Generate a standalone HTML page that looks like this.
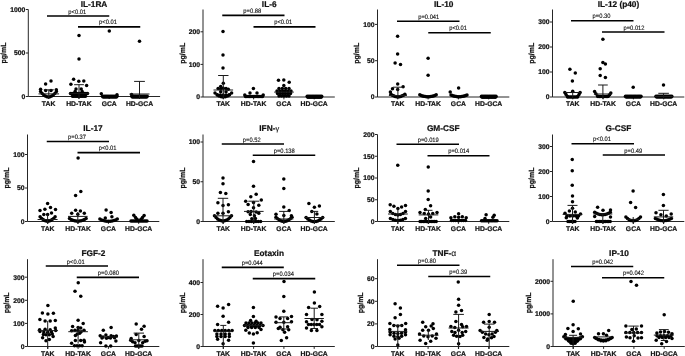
<!DOCTYPE html>
<html><head><meta charset="utf-8"><style>
html,body{margin:0;padding:0;background:#fff;}
svg{display:block;filter:grayscale(1);}
text{font-family:"Liberation Sans", sans-serif;fill:#111;stroke:#111;stroke-width:0.22px;text-rendering:geometricPrecision;}
.tk{font-size:6.8px;font-weight:bold;text-anchor:end;}
.cat{font-size:6.8px;font-weight:bold;text-anchor:middle;}
.yl{font-size:7.5px;font-weight:bold;text-anchor:middle;}
.ti{font-size:8.3px;font-weight:bold;text-anchor:middle;}
.gk{font-weight:normal;font-size:7.5px;stroke-width:0.1px;}
.pv{font-size:6.3px;text-anchor:middle;fill:#111;stroke:#111;stroke-width:0.12px;}
</style></head><body>
<svg width="685" height="356" viewBox="0 0 685 356">
<path d="M28.30 9.50V96.50H160.10" fill="none" stroke="#262626" stroke-width="1"/>
<path d="M25.80 96.50H28.30" stroke="#262626" stroke-width="1"/>
<text x="25.30" y="98.90" class="tk">0</text>
<path d="M25.80 53.00H28.30" stroke="#262626" stroke-width="1"/>
<text x="25.30" y="55.40" class="tk">500</text>
<path d="M25.80 9.50H28.30" stroke="#262626" stroke-width="1"/>
<text x="25.30" y="11.90" class="tk">1000</text>
<path d="M48.60 96.50V98.90" stroke="#262626" stroke-width="1"/>
<path d="M78.90 96.50V98.90" stroke="#262626" stroke-width="1"/>
<path d="M109.20 96.50V98.90" stroke="#262626" stroke-width="1"/>
<path d="M139.50 96.50V98.90" stroke="#262626" stroke-width="1"/>
<text x="48.60" y="106.00" class="cat">TAK</text>
<text x="78.90" y="106.00" class="cat">HD-TAK</text>
<text x="109.20" y="106.00" class="cat">GCA</text>
<text x="139.50" y="106.00" class="cat">HD-GCA</text>
<text transform="translate(6.18 53.00) rotate(-90) scale(0.93 1)" class="yl">pg/mL</text>
<text x="94.00" y="6.50" class="ti">IL-1RA</text>
<path d="M47.00 16.00H109.25" stroke="#000" stroke-width="1.65"/>
<text transform="translate(77.30 13.50) scale(0.92 1)" class="pv">p&lt;0.01</text>
<path d="M78.00 26.85H140.25" stroke="#000" stroke-width="1.65"/>
<text transform="translate(108.00 24.35) scale(0.92 1)" class="pv">p&lt;0.01</text>
<g fill="#000">
<circle cx="51.00" cy="81.10" r="1.75"/>
<circle cx="45.60" cy="83.90" r="1.75"/>
<circle cx="40.60" cy="89.20" r="1.75"/>
<circle cx="45.70" cy="90.40" r="1.75"/>
<circle cx="51.00" cy="90.40" r="1.75"/>
<circle cx="56.30" cy="89.80" r="1.75"/>
<circle cx="40.60" cy="91.40" r="1.75"/>
<circle cx="42.18" cy="93.38" r="1.75"/>
<circle cx="43.76" cy="94.92" r="1.75"/>
<circle cx="45.34" cy="96.02" r="1.75"/>
<circle cx="46.92" cy="96.68" r="1.75"/>
<circle cx="48.50" cy="96.90" r="1.75"/>
<circle cx="50.08" cy="96.68" r="1.75"/>
<circle cx="51.66" cy="96.02" r="1.75"/>
<circle cx="53.24" cy="94.92" r="1.75"/>
<circle cx="54.82" cy="93.38" r="1.75"/>
<circle cx="56.40" cy="91.40" r="1.75"/>
<circle cx="79.00" cy="35.50" r="1.75"/>
<circle cx="79.00" cy="58.90" r="1.75"/>
<circle cx="73.60" cy="79.20" r="1.75"/>
<circle cx="78.80" cy="81.20" r="1.75"/>
<circle cx="83.80" cy="81.00" r="1.75"/>
<circle cx="70.90" cy="84.30" r="1.75"/>
<circle cx="86.60" cy="85.40" r="1.75"/>
<circle cx="76.00" cy="88.90" r="1.75"/>
<circle cx="81.20" cy="88.90" r="1.75"/>
<circle cx="75.10" cy="91.50" r="1.75"/>
<circle cx="82.20" cy="91.50" r="1.75"/>
<circle cx="70.50" cy="93.50" r="1.75"/>
<circle cx="72.05" cy="93.50" r="1.75"/>
<circle cx="73.59" cy="93.50" r="1.75"/>
<circle cx="75.14" cy="93.50" r="1.75"/>
<circle cx="76.68" cy="93.50" r="1.75"/>
<circle cx="78.23" cy="93.50" r="1.75"/>
<circle cx="79.77" cy="93.50" r="1.75"/>
<circle cx="81.32" cy="93.50" r="1.75"/>
<circle cx="82.86" cy="93.50" r="1.75"/>
<circle cx="84.41" cy="93.50" r="1.75"/>
<circle cx="85.95" cy="93.50" r="1.75"/>
<circle cx="87.50" cy="93.50" r="1.75"/>
<circle cx="72.50" cy="96.30" r="1.75"/>
<circle cx="73.80" cy="96.30" r="1.75"/>
<circle cx="75.10" cy="96.30" r="1.75"/>
<circle cx="76.40" cy="96.30" r="1.75"/>
<circle cx="77.70" cy="96.30" r="1.75"/>
<circle cx="79.00" cy="96.30" r="1.75"/>
<circle cx="80.30" cy="96.30" r="1.75"/>
<circle cx="81.60" cy="96.30" r="1.75"/>
<circle cx="82.90" cy="96.30" r="1.75"/>
<circle cx="84.20" cy="96.30" r="1.75"/>
<circle cx="85.50" cy="96.30" r="1.75"/>
<circle cx="109.30" cy="31.00" r="1.75"/>
<circle cx="101.30" cy="93.80" r="1.75"/>
<circle cx="117.00" cy="94.80" r="1.75"/>
<circle cx="102.50" cy="96.15" r="1.75"/>
<circle cx="103.82" cy="96.15" r="1.75"/>
<circle cx="105.14" cy="96.15" r="1.75"/>
<circle cx="106.45" cy="96.15" r="1.75"/>
<circle cx="107.77" cy="96.15" r="1.75"/>
<circle cx="109.09" cy="96.15" r="1.75"/>
<circle cx="110.41" cy="96.15" r="1.75"/>
<circle cx="111.73" cy="96.15" r="1.75"/>
<circle cx="113.05" cy="96.15" r="1.75"/>
<circle cx="114.36" cy="96.15" r="1.75"/>
<circle cx="115.68" cy="96.15" r="1.75"/>
<circle cx="117.00" cy="96.15" r="1.75"/>
<circle cx="103.10" cy="97.05" r="1.75"/>
<circle cx="104.43" cy="97.05" r="1.75"/>
<circle cx="105.76" cy="97.05" r="1.75"/>
<circle cx="107.09" cy="97.05" r="1.75"/>
<circle cx="108.42" cy="97.05" r="1.75"/>
<circle cx="109.75" cy="97.05" r="1.75"/>
<circle cx="111.08" cy="97.05" r="1.75"/>
<circle cx="112.41" cy="97.05" r="1.75"/>
<circle cx="113.74" cy="97.05" r="1.75"/>
<circle cx="115.07" cy="97.05" r="1.75"/>
<circle cx="116.40" cy="97.05" r="1.75"/>
<circle cx="139.50" cy="41.30" r="1.75"/>
<circle cx="131.60" cy="94.60" r="1.75"/>
<circle cx="131.80" cy="96.15" r="1.75"/>
<circle cx="133.08" cy="96.15" r="1.75"/>
<circle cx="134.37" cy="96.15" r="1.75"/>
<circle cx="135.65" cy="96.15" r="1.75"/>
<circle cx="136.93" cy="96.15" r="1.75"/>
<circle cx="138.22" cy="96.15" r="1.75"/>
<circle cx="139.50" cy="96.15" r="1.75"/>
<circle cx="140.78" cy="96.15" r="1.75"/>
<circle cx="142.07" cy="96.15" r="1.75"/>
<circle cx="143.35" cy="96.15" r="1.75"/>
<circle cx="144.63" cy="96.15" r="1.75"/>
<circle cx="145.92" cy="96.15" r="1.75"/>
<circle cx="147.20" cy="96.15" r="1.75"/>
<circle cx="132.40" cy="97.05" r="1.75"/>
<circle cx="133.69" cy="97.05" r="1.75"/>
<circle cx="134.98" cy="97.05" r="1.75"/>
<circle cx="136.27" cy="97.05" r="1.75"/>
<circle cx="137.56" cy="97.05" r="1.75"/>
<circle cx="138.85" cy="97.05" r="1.75"/>
<circle cx="140.15" cy="97.05" r="1.75"/>
<circle cx="141.44" cy="97.05" r="1.75"/>
<circle cx="142.73" cy="97.05" r="1.75"/>
<circle cx="144.02" cy="97.05" r="1.75"/>
<circle cx="145.31" cy="97.05" r="1.75"/>
<circle cx="146.60" cy="97.05" r="1.75"/>
</g>
<path d="M38.50 93.90H59.10M48.80 89.80V98.90M43.80 89.80H53.80" stroke="#1a1a1a" stroke-width="1" fill="none"/>
<path d="M69.00 93.40H89.00M79.00 84.70V98.90M74.10 84.70H83.90" stroke="#1a1a1a" stroke-width="1" fill="none"/>
<path d="M129.50 94.00H149.50M139.50 81.40V98.90M134.10 81.40H144.90" stroke="#1a1a1a" stroke-width="1" fill="none"/>
<path d="M203.00 9.50V97.00H334.80" fill="none" stroke="#262626" stroke-width="1"/>
<path d="M200.50 97.00H203.00" stroke="#262626" stroke-width="1"/>
<text x="200.00" y="99.40" class="tk">0</text>
<path d="M200.50 64.40H203.00" stroke="#262626" stroke-width="1"/>
<text x="200.00" y="66.80" class="tk">100</text>
<path d="M200.50 31.80H203.00" stroke="#262626" stroke-width="1"/>
<text x="200.00" y="34.20" class="tk">200</text>
<path d="M223.30 97.00V99.40" stroke="#262626" stroke-width="1"/>
<path d="M253.60 97.00V99.40" stroke="#262626" stroke-width="1"/>
<path d="M283.90 97.00V99.40" stroke="#262626" stroke-width="1"/>
<path d="M314.20 97.00V99.40" stroke="#262626" stroke-width="1"/>
<text x="223.30" y="106.00" class="cat">TAK</text>
<text x="253.60" y="106.00" class="cat">HD-TAK</text>
<text x="283.90" y="106.00" class="cat">GCA</text>
<text x="314.20" y="106.00" class="cat">HD-GCA</text>
<text transform="translate(184.66 53.25) rotate(-90) scale(0.93 1)" class="yl">pg/mL</text>
<text x="269.25" y="6.50" class="ti">IL-6</text>
<path d="M222.25 15.30H284.50" stroke="#000" stroke-width="1.65"/>
<text transform="translate(252.25 12.80) scale(0.92 1)" class="pv">p=0.88</text>
<path d="M253.50 26.80H315.50" stroke="#000" stroke-width="1.65"/>
<text transform="translate(283.20 24.30) scale(0.92 1)" class="pv">p&lt;0.01</text>
<g fill="#000">
<circle cx="223.00" cy="31.60" r="1.75"/>
<circle cx="223.00" cy="54.90" r="1.75"/>
<circle cx="223.00" cy="68.10" r="1.75"/>
<circle cx="223.30" cy="83.20" r="1.75"/>
<circle cx="220.70" cy="86.40" r="1.75"/>
<circle cx="218.10" cy="88.60" r="1.75"/>
<circle cx="220.70" cy="89.10" r="1.75"/>
<circle cx="223.30" cy="88.20" r="1.75"/>
<circle cx="226.00" cy="88.60" r="1.75"/>
<circle cx="228.30" cy="89.30" r="1.75"/>
<circle cx="220.70" cy="91.70" r="1.75"/>
<circle cx="226.00" cy="91.70" r="1.75"/>
<circle cx="215.00" cy="93.00" r="1.75"/>
<circle cx="217.08" cy="94.75" r="1.75"/>
<circle cx="219.15" cy="96.00" r="1.75"/>
<circle cx="221.23" cy="96.75" r="1.75"/>
<circle cx="223.30" cy="97.00" r="1.75"/>
<circle cx="225.38" cy="96.75" r="1.75"/>
<circle cx="227.45" cy="96.00" r="1.75"/>
<circle cx="229.53" cy="94.75" r="1.75"/>
<circle cx="231.60" cy="93.00" r="1.75"/>
<circle cx="217.50" cy="95.00" r="1.75"/>
<circle cx="220.38" cy="95.00" r="1.75"/>
<circle cx="223.25" cy="95.00" r="1.75"/>
<circle cx="226.12" cy="95.00" r="1.75"/>
<circle cx="229.00" cy="95.00" r="1.75"/>
<circle cx="253.40" cy="88.60" r="1.75"/>
<circle cx="250.00" cy="93.00" r="1.75"/>
<circle cx="257.00" cy="93.00" r="1.75"/>
<circle cx="245.50" cy="96.40" r="1.75"/>
<circle cx="246.81" cy="96.40" r="1.75"/>
<circle cx="248.12" cy="96.40" r="1.75"/>
<circle cx="249.42" cy="96.40" r="1.75"/>
<circle cx="250.73" cy="96.40" r="1.75"/>
<circle cx="252.04" cy="96.40" r="1.75"/>
<circle cx="253.35" cy="96.40" r="1.75"/>
<circle cx="254.65" cy="96.40" r="1.75"/>
<circle cx="255.96" cy="96.40" r="1.75"/>
<circle cx="257.27" cy="96.40" r="1.75"/>
<circle cx="258.58" cy="96.40" r="1.75"/>
<circle cx="259.88" cy="96.40" r="1.75"/>
<circle cx="261.19" cy="96.40" r="1.75"/>
<circle cx="262.50" cy="96.40" r="1.75"/>
<circle cx="244.80" cy="95.00" r="1.75"/>
<circle cx="263.20" cy="95.00" r="1.75"/>
<circle cx="278.50" cy="80.30" r="1.75"/>
<circle cx="283.80" cy="79.90" r="1.75"/>
<circle cx="289.20" cy="82.30" r="1.75"/>
<circle cx="283.80" cy="85.60" r="1.75"/>
<circle cx="279.00" cy="88.50" r="1.75"/>
<circle cx="282.33" cy="88.50" r="1.75"/>
<circle cx="285.67" cy="88.50" r="1.75"/>
<circle cx="289.00" cy="88.50" r="1.75"/>
<circle cx="277.00" cy="91.00" r="1.75"/>
<circle cx="279.80" cy="91.00" r="1.75"/>
<circle cx="282.60" cy="91.00" r="1.75"/>
<circle cx="285.40" cy="91.00" r="1.75"/>
<circle cx="288.20" cy="91.00" r="1.75"/>
<circle cx="291.00" cy="91.00" r="1.75"/>
<circle cx="277.50" cy="93.50" r="1.75"/>
<circle cx="280.10" cy="93.50" r="1.75"/>
<circle cx="282.70" cy="93.50" r="1.75"/>
<circle cx="285.30" cy="93.50" r="1.75"/>
<circle cx="287.90" cy="93.50" r="1.75"/>
<circle cx="290.50" cy="93.50" r="1.75"/>
<circle cx="279.00" cy="96.00" r="1.75"/>
<circle cx="281.50" cy="96.00" r="1.75"/>
<circle cx="284.00" cy="96.00" r="1.75"/>
<circle cx="286.50" cy="96.00" r="1.75"/>
<circle cx="289.00" cy="96.00" r="1.75"/>
<circle cx="307.20" cy="96.25" r="1.75"/>
<circle cx="308.52" cy="96.25" r="1.75"/>
<circle cx="309.84" cy="96.25" r="1.75"/>
<circle cx="311.15" cy="96.25" r="1.75"/>
<circle cx="312.47" cy="96.25" r="1.75"/>
<circle cx="313.79" cy="96.25" r="1.75"/>
<circle cx="315.11" cy="96.25" r="1.75"/>
<circle cx="316.43" cy="96.25" r="1.75"/>
<circle cx="317.75" cy="96.25" r="1.75"/>
<circle cx="319.06" cy="96.25" r="1.75"/>
<circle cx="320.38" cy="96.25" r="1.75"/>
<circle cx="321.70" cy="96.25" r="1.75"/>
<circle cx="307.80" cy="97.15" r="1.75"/>
<circle cx="309.13" cy="97.15" r="1.75"/>
<circle cx="310.46" cy="97.15" r="1.75"/>
<circle cx="311.79" cy="97.15" r="1.75"/>
<circle cx="313.12" cy="97.15" r="1.75"/>
<circle cx="314.45" cy="97.15" r="1.75"/>
<circle cx="315.78" cy="97.15" r="1.75"/>
<circle cx="317.11" cy="97.15" r="1.75"/>
<circle cx="318.44" cy="97.15" r="1.75"/>
<circle cx="319.77" cy="97.15" r="1.75"/>
<circle cx="321.10" cy="97.15" r="1.75"/>
</g>
<path d="M213.50 90.00H233.10M223.30 75.50V99.00M218.10 75.50H228.50" stroke="#1a1a1a" stroke-width="1" fill="none"/>
<path d="M274.20 92.10H293.80" stroke="#1a1a1a" stroke-width="1" fill="none"/>
<path d="M377.50 9.50V97.00H509.30" fill="none" stroke="#262626" stroke-width="1"/>
<path d="M375.00 97.00H377.50" stroke="#262626" stroke-width="1"/>
<text x="374.50" y="99.40" class="tk">0</text>
<path d="M375.00 60.70H377.50" stroke="#262626" stroke-width="1"/>
<text x="374.50" y="63.10" class="tk">50</text>
<path d="M375.00 24.40H377.50" stroke="#262626" stroke-width="1"/>
<text x="374.50" y="26.80" class="tk">100</text>
<path d="M397.80 97.00V99.40" stroke="#262626" stroke-width="1"/>
<path d="M428.10 97.00V99.40" stroke="#262626" stroke-width="1"/>
<path d="M458.40 97.00V99.40" stroke="#262626" stroke-width="1"/>
<path d="M488.70 97.00V99.40" stroke="#262626" stroke-width="1"/>
<text x="397.80" y="106.00" class="cat">TAK</text>
<text x="428.10" y="106.00" class="cat">HD-TAK</text>
<text x="458.40" y="106.00" class="cat">GCA</text>
<text x="488.70" y="106.00" class="cat">HD-GCA</text>
<text transform="translate(359.16 53.25) rotate(-90) scale(0.93 1)" class="yl">pg/mL</text>
<text x="443.75" y="6.50" class="ti">IL-10</text>
<path d="M397.00 21.25H459.50" stroke="#000" stroke-width="1.65"/>
<text transform="translate(428.75 18.75) scale(0.92 1)" class="pv">p=0.041</text>
<path d="M428.25 32.75H490.75" stroke="#000" stroke-width="1.65"/>
<text transform="translate(458.10 30.25) scale(0.92 1)" class="pv">p&lt;0.01</text>
<g fill="#000">
<circle cx="397.60" cy="36.20" r="1.75"/>
<circle cx="397.60" cy="53.90" r="1.75"/>
<circle cx="395.10" cy="63.00" r="1.75"/>
<circle cx="400.50" cy="64.60" r="1.75"/>
<circle cx="397.70" cy="84.10" r="1.75"/>
<circle cx="403.10" cy="86.80" r="1.75"/>
<circle cx="392.50" cy="88.70" r="1.75"/>
<circle cx="397.70" cy="89.40" r="1.75"/>
<circle cx="390.40" cy="92.00" r="1.75"/>
<circle cx="390.90" cy="94.20" r="1.75"/>
<circle cx="392.30" cy="95.14" r="1.75"/>
<circle cx="393.70" cy="95.86" r="1.75"/>
<circle cx="395.10" cy="96.38" r="1.75"/>
<circle cx="396.50" cy="96.70" r="1.75"/>
<circle cx="397.90" cy="96.80" r="1.75"/>
<circle cx="399.30" cy="96.70" r="1.75"/>
<circle cx="400.70" cy="96.38" r="1.75"/>
<circle cx="402.10" cy="95.86" r="1.75"/>
<circle cx="403.50" cy="95.14" r="1.75"/>
<circle cx="404.90" cy="94.20" r="1.75"/>
<circle cx="428.10" cy="58.20" r="1.75"/>
<circle cx="428.10" cy="75.20" r="1.75"/>
<circle cx="419.80" cy="94.80" r="1.75"/>
<circle cx="421.17" cy="95.41" r="1.75"/>
<circle cx="422.53" cy="95.91" r="1.75"/>
<circle cx="423.90" cy="96.30" r="1.75"/>
<circle cx="425.27" cy="96.58" r="1.75"/>
<circle cx="426.63" cy="96.74" r="1.75"/>
<circle cx="428.00" cy="96.80" r="1.75"/>
<circle cx="429.37" cy="96.74" r="1.75"/>
<circle cx="430.73" cy="96.58" r="1.75"/>
<circle cx="432.10" cy="96.30" r="1.75"/>
<circle cx="433.47" cy="95.91" r="1.75"/>
<circle cx="434.83" cy="95.41" r="1.75"/>
<circle cx="436.20" cy="94.80" r="1.75"/>
<circle cx="458.60" cy="87.90" r="1.75"/>
<circle cx="450.20" cy="92.10" r="1.75"/>
<circle cx="451.00" cy="95.00" r="1.75"/>
<circle cx="452.33" cy="95.55" r="1.75"/>
<circle cx="453.67" cy="96.00" r="1.75"/>
<circle cx="455.00" cy="96.35" r="1.75"/>
<circle cx="456.33" cy="96.60" r="1.75"/>
<circle cx="457.67" cy="96.75" r="1.75"/>
<circle cx="459.00" cy="96.80" r="1.75"/>
<circle cx="460.33" cy="96.75" r="1.75"/>
<circle cx="461.67" cy="96.60" r="1.75"/>
<circle cx="463.00" cy="96.35" r="1.75"/>
<circle cx="464.33" cy="96.00" r="1.75"/>
<circle cx="465.67" cy="95.55" r="1.75"/>
<circle cx="467.00" cy="95.00" r="1.75"/>
<circle cx="481.50" cy="96.25" r="1.75"/>
<circle cx="482.82" cy="96.25" r="1.75"/>
<circle cx="484.14" cy="96.25" r="1.75"/>
<circle cx="485.45" cy="96.25" r="1.75"/>
<circle cx="486.77" cy="96.25" r="1.75"/>
<circle cx="488.09" cy="96.25" r="1.75"/>
<circle cx="489.41" cy="96.25" r="1.75"/>
<circle cx="490.73" cy="96.25" r="1.75"/>
<circle cx="492.05" cy="96.25" r="1.75"/>
<circle cx="493.36" cy="96.25" r="1.75"/>
<circle cx="494.68" cy="96.25" r="1.75"/>
<circle cx="496.00" cy="96.25" r="1.75"/>
<circle cx="482.10" cy="97.15" r="1.75"/>
<circle cx="483.43" cy="97.15" r="1.75"/>
<circle cx="484.76" cy="97.15" r="1.75"/>
<circle cx="486.09" cy="97.15" r="1.75"/>
<circle cx="487.42" cy="97.15" r="1.75"/>
<circle cx="488.75" cy="97.15" r="1.75"/>
<circle cx="490.08" cy="97.15" r="1.75"/>
<circle cx="491.41" cy="97.15" r="1.75"/>
<circle cx="492.74" cy="97.15" r="1.75"/>
<circle cx="494.07" cy="97.15" r="1.75"/>
<circle cx="495.40" cy="97.15" r="1.75"/>
</g>
<path d="M388.90 95.50H406.90M397.90 87.20V99.00M392.90 87.20H402.90" stroke="#1a1a1a" stroke-width="1" fill="none"/>
<path d="M552.50 9.50V97.00H684.30" fill="none" stroke="#262626" stroke-width="1"/>
<path d="M550.00 97.00H552.50" stroke="#262626" stroke-width="1"/>
<text x="549.50" y="99.40" class="tk">0</text>
<path d="M550.00 72.00H552.50" stroke="#262626" stroke-width="1"/>
<text x="549.50" y="74.40" class="tk">100</text>
<path d="M550.00 47.00H552.50" stroke="#262626" stroke-width="1"/>
<text x="549.50" y="49.40" class="tk">200</text>
<path d="M550.00 22.00H552.50" stroke="#262626" stroke-width="1"/>
<text x="549.50" y="24.40" class="tk">300</text>
<path d="M572.80 97.00V99.40" stroke="#262626" stroke-width="1"/>
<path d="M603.10 97.00V99.40" stroke="#262626" stroke-width="1"/>
<path d="M633.40 97.00V99.40" stroke="#262626" stroke-width="1"/>
<path d="M663.70 97.00V99.40" stroke="#262626" stroke-width="1"/>
<text x="572.80" y="106.00" class="cat">TAK</text>
<text x="603.10" y="106.00" class="cat">HD-TAK</text>
<text x="633.40" y="106.00" class="cat">GCA</text>
<text x="663.70" y="106.00" class="cat">HD-GCA</text>
<text transform="translate(534.16 53.25) rotate(-90) scale(0.93 1)" class="yl">pg/mL</text>
<text x="618.50" y="6.50" class="ti">IL-12 (p40)</text>
<path d="M571.00 20.75H633.50" stroke="#000" stroke-width="1.65"/>
<text transform="translate(601.50 18.25) scale(0.92 1)" class="pv">p=0.30</text>
<path d="M602.00 32.00H664.50" stroke="#000" stroke-width="1.65"/>
<text transform="translate(634.00 29.50) scale(0.92 1)" class="pv">p=0.012</text>
<g fill="#000">
<circle cx="569.90" cy="69.20" r="1.75"/>
<circle cx="575.30" cy="73.10" r="1.75"/>
<circle cx="572.40" cy="80.90" r="1.75"/>
<circle cx="572.70" cy="91.20" r="1.75"/>
<circle cx="564.80" cy="92.50" r="1.75"/>
<circle cx="566.00" cy="94.60" r="1.75"/>
<circle cx="567.40" cy="96.40" r="1.75"/>
<circle cx="580.10" cy="92.50" r="1.75"/>
<circle cx="579.00" cy="94.60" r="1.75"/>
<circle cx="577.60" cy="96.40" r="1.75"/>
<circle cx="567.60" cy="96.90" r="1.75"/>
<circle cx="569.01" cy="96.90" r="1.75"/>
<circle cx="570.43" cy="96.90" r="1.75"/>
<circle cx="571.84" cy="96.90" r="1.75"/>
<circle cx="573.26" cy="96.90" r="1.75"/>
<circle cx="574.67" cy="96.90" r="1.75"/>
<circle cx="576.09" cy="96.90" r="1.75"/>
<circle cx="577.50" cy="96.90" r="1.75"/>
<circle cx="602.90" cy="39.30" r="1.75"/>
<circle cx="602.90" cy="62.60" r="1.75"/>
<circle cx="605.40" cy="64.00" r="1.75"/>
<circle cx="600.20" cy="68.80" r="1.75"/>
<circle cx="600.20" cy="75.60" r="1.75"/>
<circle cx="605.40" cy="77.60" r="1.75"/>
<circle cx="594.60" cy="91.40" r="1.75"/>
<circle cx="595.90" cy="93.70" r="1.75"/>
<circle cx="597.50" cy="95.90" r="1.75"/>
<circle cx="610.80" cy="93.00" r="1.75"/>
<circle cx="609.60" cy="94.80" r="1.75"/>
<circle cx="608.20" cy="96.20" r="1.75"/>
<circle cx="598.00" cy="96.60" r="1.75"/>
<circle cx="599.39" cy="96.60" r="1.75"/>
<circle cx="600.77" cy="96.60" r="1.75"/>
<circle cx="602.16" cy="96.60" r="1.75"/>
<circle cx="603.54" cy="96.60" r="1.75"/>
<circle cx="604.93" cy="96.60" r="1.75"/>
<circle cx="606.31" cy="96.60" r="1.75"/>
<circle cx="607.70" cy="96.60" r="1.75"/>
<circle cx="633.20" cy="87.30" r="1.75"/>
<circle cx="625.50" cy="96.15" r="1.75"/>
<circle cx="626.79" cy="96.15" r="1.75"/>
<circle cx="628.08" cy="96.15" r="1.75"/>
<circle cx="629.38" cy="96.15" r="1.75"/>
<circle cx="630.67" cy="96.15" r="1.75"/>
<circle cx="631.96" cy="96.15" r="1.75"/>
<circle cx="633.25" cy="96.15" r="1.75"/>
<circle cx="634.54" cy="96.15" r="1.75"/>
<circle cx="635.83" cy="96.15" r="1.75"/>
<circle cx="637.12" cy="96.15" r="1.75"/>
<circle cx="638.42" cy="96.15" r="1.75"/>
<circle cx="639.71" cy="96.15" r="1.75"/>
<circle cx="641.00" cy="96.15" r="1.75"/>
<circle cx="626.10" cy="97.05" r="1.75"/>
<circle cx="627.40" cy="97.05" r="1.75"/>
<circle cx="628.70" cy="97.05" r="1.75"/>
<circle cx="630.00" cy="97.05" r="1.75"/>
<circle cx="631.30" cy="97.05" r="1.75"/>
<circle cx="632.60" cy="97.05" r="1.75"/>
<circle cx="633.90" cy="97.05" r="1.75"/>
<circle cx="635.20" cy="97.05" r="1.75"/>
<circle cx="636.50" cy="97.05" r="1.75"/>
<circle cx="637.80" cy="97.05" r="1.75"/>
<circle cx="639.10" cy="97.05" r="1.75"/>
<circle cx="640.40" cy="97.05" r="1.75"/>
<circle cx="663.50" cy="85.00" r="1.75"/>
<circle cx="656.00" cy="96.15" r="1.75"/>
<circle cx="657.32" cy="96.15" r="1.75"/>
<circle cx="658.63" cy="96.15" r="1.75"/>
<circle cx="659.95" cy="96.15" r="1.75"/>
<circle cx="661.27" cy="96.15" r="1.75"/>
<circle cx="662.58" cy="96.15" r="1.75"/>
<circle cx="663.90" cy="96.15" r="1.75"/>
<circle cx="665.22" cy="96.15" r="1.75"/>
<circle cx="666.53" cy="96.15" r="1.75"/>
<circle cx="667.85" cy="96.15" r="1.75"/>
<circle cx="669.17" cy="96.15" r="1.75"/>
<circle cx="670.48" cy="96.15" r="1.75"/>
<circle cx="671.80" cy="96.15" r="1.75"/>
<circle cx="656.60" cy="97.05" r="1.75"/>
<circle cx="657.93" cy="97.05" r="1.75"/>
<circle cx="659.25" cy="97.05" r="1.75"/>
<circle cx="660.58" cy="97.05" r="1.75"/>
<circle cx="661.91" cy="97.05" r="1.75"/>
<circle cx="663.24" cy="97.05" r="1.75"/>
<circle cx="664.56" cy="97.05" r="1.75"/>
<circle cx="665.89" cy="97.05" r="1.75"/>
<circle cx="667.22" cy="97.05" r="1.75"/>
<circle cx="668.55" cy="97.05" r="1.75"/>
<circle cx="669.87" cy="97.05" r="1.75"/>
<circle cx="671.20" cy="97.05" r="1.75"/>
</g>
<path d="M565.10 92.50H580.30M572.70 91.20V99.00" stroke="#1a1a1a" stroke-width="1" fill="none"/>
<path d="M593.90 94.00H611.90M602.90 85.00V99.00M598.05 85.00H607.75" stroke="#1a1a1a" stroke-width="1" fill="none"/>
<path d="M654.60 96.50H672.60M663.60 93.30V99.00M658.30 93.30H668.90" stroke="#1a1a1a" stroke-width="1" fill="none"/>
<path d="M27.50 134.50V221.50H159.30" fill="none" stroke="#262626" stroke-width="1"/>
<path d="M25.00 221.50H27.50" stroke="#262626" stroke-width="1"/>
<text x="24.50" y="223.90" class="tk">0</text>
<path d="M25.00 188.00H27.50" stroke="#262626" stroke-width="1"/>
<text x="24.50" y="190.40" class="tk">50</text>
<path d="M25.00 154.50H27.50" stroke="#262626" stroke-width="1"/>
<text x="24.50" y="156.90" class="tk">100</text>
<path d="M47.80 221.50V223.90" stroke="#262626" stroke-width="1"/>
<path d="M78.10 221.50V223.90" stroke="#262626" stroke-width="1"/>
<path d="M108.40 221.50V223.90" stroke="#262626" stroke-width="1"/>
<path d="M138.70 221.50V223.90" stroke="#262626" stroke-width="1"/>
<text x="47.80" y="231.00" class="cat">TAK</text>
<text x="78.10" y="231.00" class="cat">HD-TAK</text>
<text x="108.40" y="231.00" class="cat">GCA</text>
<text x="138.70" y="231.00" class="cat">HD-GCA</text>
<text transform="translate(9.16 178.00) rotate(-90) scale(0.93 1)" class="yl">pg/mL</text>
<text x="93.00" y="131.00" class="ti">IL-17</text>
<path d="M46.75 141.50H109.00" stroke="#000" stroke-width="1.65"/>
<text transform="translate(77.00 139.00) scale(0.92 1)" class="pv">p=0.37</text>
<path d="M77.50 152.55H140.00" stroke="#000" stroke-width="1.65"/>
<text transform="translate(107.60 150.05) scale(0.92 1)" class="pv">p&lt;0.01</text>
<g fill="#000">
<circle cx="47.60" cy="203.40" r="1.75"/>
<circle cx="50.50" cy="207.50" r="1.75"/>
<circle cx="44.90" cy="209.20" r="1.75"/>
<circle cx="40.00" cy="210.40" r="1.75"/>
<circle cx="55.50" cy="209.60" r="1.75"/>
<circle cx="51.50" cy="212.90" r="1.75"/>
<circle cx="47.60" cy="214.50" r="1.75"/>
<circle cx="43.80" cy="214.50" r="1.75"/>
<circle cx="40.10" cy="216.80" r="1.75"/>
<circle cx="41.60" cy="218.38" r="1.75"/>
<circle cx="43.10" cy="219.62" r="1.75"/>
<circle cx="44.60" cy="220.50" r="1.75"/>
<circle cx="46.10" cy="221.02" r="1.75"/>
<circle cx="47.60" cy="221.20" r="1.75"/>
<circle cx="49.10" cy="221.02" r="1.75"/>
<circle cx="50.60" cy="220.50" r="1.75"/>
<circle cx="52.10" cy="219.62" r="1.75"/>
<circle cx="53.60" cy="218.38" r="1.75"/>
<circle cx="55.10" cy="216.80" r="1.75"/>
<circle cx="78.10" cy="157.90" r="1.75"/>
<circle cx="80.80" cy="191.50" r="1.75"/>
<circle cx="75.60" cy="195.40" r="1.75"/>
<circle cx="75.60" cy="210.30" r="1.75"/>
<circle cx="80.40" cy="211.10" r="1.75"/>
<circle cx="71.70" cy="213.30" r="1.75"/>
<circle cx="84.30" cy="213.30" r="1.75"/>
<circle cx="77.80" cy="214.20" r="1.75"/>
<circle cx="69.50" cy="218.60" r="1.75"/>
<circle cx="71.16" cy="219.54" r="1.75"/>
<circle cx="72.82" cy="220.26" r="1.75"/>
<circle cx="74.48" cy="220.78" r="1.75"/>
<circle cx="76.14" cy="221.10" r="1.75"/>
<circle cx="77.80" cy="221.20" r="1.75"/>
<circle cx="79.46" cy="221.10" r="1.75"/>
<circle cx="81.12" cy="220.78" r="1.75"/>
<circle cx="82.78" cy="220.26" r="1.75"/>
<circle cx="84.44" cy="219.54" r="1.75"/>
<circle cx="86.10" cy="218.60" r="1.75"/>
<circle cx="106.10" cy="210.00" r="1.75"/>
<circle cx="111.10" cy="212.50" r="1.75"/>
<circle cx="105.30" cy="218.10" r="1.75"/>
<circle cx="111.90" cy="216.70" r="1.75"/>
<circle cx="99.90" cy="219.10" r="1.75"/>
<circle cx="101.64" cy="219.89" r="1.75"/>
<circle cx="103.38" cy="220.51" r="1.75"/>
<circle cx="105.12" cy="220.95" r="1.75"/>
<circle cx="106.86" cy="221.21" r="1.75"/>
<circle cx="108.60" cy="221.30" r="1.75"/>
<circle cx="110.34" cy="221.21" r="1.75"/>
<circle cx="112.08" cy="220.95" r="1.75"/>
<circle cx="113.82" cy="220.51" r="1.75"/>
<circle cx="115.56" cy="219.89" r="1.75"/>
<circle cx="117.30" cy="219.10" r="1.75"/>
<circle cx="133.80" cy="215.20" r="1.75"/>
<circle cx="144.10" cy="215.60" r="1.75"/>
<circle cx="135.50" cy="217.50" r="1.75"/>
<circle cx="142.50" cy="217.50" r="1.75"/>
<circle cx="137.00" cy="219.20" r="1.75"/>
<circle cx="141.00" cy="219.20" r="1.75"/>
<circle cx="131.00" cy="221.00" r="1.75"/>
<circle cx="132.45" cy="221.00" r="1.75"/>
<circle cx="133.91" cy="221.00" r="1.75"/>
<circle cx="135.36" cy="221.00" r="1.75"/>
<circle cx="136.82" cy="221.00" r="1.75"/>
<circle cx="138.27" cy="221.00" r="1.75"/>
<circle cx="139.73" cy="221.00" r="1.75"/>
<circle cx="141.18" cy="221.00" r="1.75"/>
<circle cx="142.64" cy="221.00" r="1.75"/>
<circle cx="144.09" cy="221.00" r="1.75"/>
<circle cx="145.55" cy="221.00" r="1.75"/>
<circle cx="147.00" cy="221.00" r="1.75"/>
</g>
<path d="M37.60 219.50H57.60M47.60 214.50V223.90" stroke="#1a1a1a" stroke-width="1" fill="none"/>
<path d="M68.00 216.40H87.60M77.80 212.00V223.90" stroke="#1a1a1a" stroke-width="1" fill="none"/>
<path d="M203.00 134.50V221.50H334.80" fill="none" stroke="#262626" stroke-width="1"/>
<path d="M200.50 221.50H203.00" stroke="#262626" stroke-width="1"/>
<text x="200.00" y="223.90" class="tk">0</text>
<path d="M200.50 181.75H203.00" stroke="#262626" stroke-width="1"/>
<text x="200.00" y="184.15" class="tk">50</text>
<path d="M200.50 142.00H203.00" stroke="#262626" stroke-width="1"/>
<text x="200.00" y="144.40" class="tk">100</text>
<path d="M223.30 221.50V223.90" stroke="#262626" stroke-width="1"/>
<path d="M253.60 221.50V223.90" stroke="#262626" stroke-width="1"/>
<path d="M283.90 221.50V223.90" stroke="#262626" stroke-width="1"/>
<path d="M314.20 221.50V223.90" stroke="#262626" stroke-width="1"/>
<text x="223.30" y="231.00" class="cat">TAK</text>
<text x="253.60" y="231.00" class="cat">HD-TAK</text>
<text x="283.90" y="231.00" class="cat">GCA</text>
<text x="314.20" y="231.00" class="cat">HD-GCA</text>
<text transform="translate(184.66 178.00) rotate(-90) scale(0.93 1)" class="yl">pg/mL</text>
<text x="269.25" y="131.00" class="ti">IFN-<tspan class="gk">γ</tspan></text>
<path d="M221.75 144.00H284.00" stroke="#000" stroke-width="1.65"/>
<text transform="translate(251.75 141.50) scale(0.92 1)" class="pv">p=0.52</text>
<path d="M252.75 155.25H315.25" stroke="#000" stroke-width="1.65"/>
<text transform="translate(284.25 152.75) scale(0.92 1)" class="pv">p=0.138</text>
<g fill="#000">
<circle cx="223.00" cy="178.10" r="1.75"/>
<circle cx="223.00" cy="183.70" r="1.75"/>
<circle cx="220.40" cy="192.40" r="1.75"/>
<circle cx="225.80" cy="193.60" r="1.75"/>
<circle cx="217.90" cy="202.70" r="1.75"/>
<circle cx="223.00" cy="205.60" r="1.75"/>
<circle cx="228.40" cy="204.80" r="1.75"/>
<circle cx="217.90" cy="213.20" r="1.75"/>
<circle cx="223.00" cy="213.20" r="1.75"/>
<circle cx="228.40" cy="211.70" r="1.75"/>
<circle cx="214.50" cy="215.80" r="1.75"/>
<circle cx="216.05" cy="217.52" r="1.75"/>
<circle cx="217.59" cy="218.89" r="1.75"/>
<circle cx="219.14" cy="219.93" r="1.75"/>
<circle cx="220.68" cy="220.61" r="1.75"/>
<circle cx="222.23" cy="220.96" r="1.75"/>
<circle cx="223.77" cy="220.96" r="1.75"/>
<circle cx="225.32" cy="220.61" r="1.75"/>
<circle cx="226.86" cy="219.93" r="1.75"/>
<circle cx="228.41" cy="218.89" r="1.75"/>
<circle cx="229.95" cy="217.52" r="1.75"/>
<circle cx="231.50" cy="215.80" r="1.75"/>
<circle cx="253.50" cy="161.50" r="1.75"/>
<circle cx="253.50" cy="186.30" r="1.75"/>
<circle cx="256.20" cy="194.20" r="1.75"/>
<circle cx="250.80" cy="196.80" r="1.75"/>
<circle cx="245.70" cy="201.20" r="1.75"/>
<circle cx="261.30" cy="200.00" r="1.75"/>
<circle cx="248.10" cy="204.40" r="1.75"/>
<circle cx="258.80" cy="205.30" r="1.75"/>
<circle cx="253.50" cy="202.40" r="1.75"/>
<circle cx="253.50" cy="207.80" r="1.75"/>
<circle cx="248.10" cy="211.70" r="1.75"/>
<circle cx="251.10" cy="211.40" r="1.75"/>
<circle cx="256.20" cy="212.10" r="1.75"/>
<circle cx="258.80" cy="213.20" r="1.75"/>
<circle cx="250.30" cy="214.60" r="1.75"/>
<circle cx="254.40" cy="215.80" r="1.75"/>
<circle cx="251.80" cy="218.70" r="1.75"/>
<circle cx="255.40" cy="218.40" r="1.75"/>
<circle cx="246.70" cy="221.60" r="1.75"/>
<circle cx="249.02" cy="221.60" r="1.75"/>
<circle cx="251.33" cy="221.60" r="1.75"/>
<circle cx="253.65" cy="221.60" r="1.75"/>
<circle cx="255.97" cy="221.60" r="1.75"/>
<circle cx="258.28" cy="221.60" r="1.75"/>
<circle cx="260.60" cy="221.60" r="1.75"/>
<circle cx="283.80" cy="179.00" r="1.75"/>
<circle cx="283.80" cy="188.40" r="1.75"/>
<circle cx="283.80" cy="207.00" r="1.75"/>
<circle cx="289.20" cy="210.40" r="1.75"/>
<circle cx="283.80" cy="215.50" r="1.75"/>
<circle cx="276.00" cy="214.30" r="1.75"/>
<circle cx="291.40" cy="215.80" r="1.75"/>
<circle cx="276.00" cy="217.30" r="1.75"/>
<circle cx="277.60" cy="218.74" r="1.75"/>
<circle cx="279.20" cy="219.86" r="1.75"/>
<circle cx="280.80" cy="220.66" r="1.75"/>
<circle cx="282.40" cy="221.14" r="1.75"/>
<circle cx="284.00" cy="221.30" r="1.75"/>
<circle cx="285.60" cy="221.14" r="1.75"/>
<circle cx="287.20" cy="220.66" r="1.75"/>
<circle cx="288.80" cy="219.86" r="1.75"/>
<circle cx="290.40" cy="218.74" r="1.75"/>
<circle cx="292.00" cy="217.30" r="1.75"/>
<circle cx="308.90" cy="203.40" r="1.75"/>
<circle cx="314.40" cy="207.30" r="1.75"/>
<circle cx="319.40" cy="205.90" r="1.75"/>
<circle cx="311.80" cy="211.40" r="1.75"/>
<circle cx="316.90" cy="214.00" r="1.75"/>
<circle cx="306.10" cy="217.50" r="1.75"/>
<circle cx="307.76" cy="218.98" r="1.75"/>
<circle cx="309.42" cy="220.12" r="1.75"/>
<circle cx="311.08" cy="220.94" r="1.75"/>
<circle cx="312.74" cy="221.44" r="1.75"/>
<circle cx="314.40" cy="221.60" r="1.75"/>
<circle cx="316.06" cy="221.44" r="1.75"/>
<circle cx="317.72" cy="220.94" r="1.75"/>
<circle cx="319.38" cy="220.12" r="1.75"/>
<circle cx="321.04" cy="218.98" r="1.75"/>
<circle cx="322.70" cy="217.50" r="1.75"/>
</g>
<path d="M213.50 215.80H232.50M223.00 198.30V223.90M217.80 198.30H228.20" stroke="#1a1a1a" stroke-width="1" fill="none"/>
<path d="M244.00 211.40H263.60M253.80 201.20V223.90M248.30 201.20H259.30" stroke="#1a1a1a" stroke-width="1" fill="none"/>
<path d="M274.30 219.00H293.30M283.80 211.40V223.90M279.10 211.40H288.50" stroke="#1a1a1a" stroke-width="1" fill="none"/>
<path d="M304.60 217.50H324.20M314.40 211.40V223.90M310.60 211.40H318.20" stroke="#1a1a1a" stroke-width="1" fill="none"/>
<path d="M377.50 134.50V221.50H509.30" fill="none" stroke="#262626" stroke-width="1"/>
<path d="M375.00 221.50H377.50" stroke="#262626" stroke-width="1"/>
<text x="374.50" y="223.90" class="tk">0</text>
<path d="M375.00 199.75H377.50" stroke="#262626" stroke-width="1"/>
<text x="374.50" y="202.15" class="tk">50</text>
<path d="M375.00 178.00H377.50" stroke="#262626" stroke-width="1"/>
<text x="374.50" y="180.40" class="tk">100</text>
<path d="M375.00 156.25H377.50" stroke="#262626" stroke-width="1"/>
<text x="374.50" y="158.65" class="tk">150</text>
<path d="M375.00 134.50H377.50" stroke="#262626" stroke-width="1"/>
<text x="374.50" y="136.90" class="tk">200</text>
<path d="M397.80 221.50V223.90" stroke="#262626" stroke-width="1"/>
<path d="M428.10 221.50V223.90" stroke="#262626" stroke-width="1"/>
<path d="M458.40 221.50V223.90" stroke="#262626" stroke-width="1"/>
<path d="M488.70 221.50V223.90" stroke="#262626" stroke-width="1"/>
<text x="397.80" y="231.00" class="cat">TAK</text>
<text x="428.10" y="231.00" class="cat">HD-TAK</text>
<text x="458.40" y="231.00" class="cat">GCA</text>
<text x="488.70" y="231.00" class="cat">HD-GCA</text>
<text transform="translate(359.16 178.00) rotate(-90) scale(0.93 1)" class="yl">pg/mL</text>
<text x="443.25" y="131.00" class="ti">GM-CSF</text>
<path d="M396.50 144.25H459.00" stroke="#000" stroke-width="1.65"/>
<text transform="translate(428.25 141.75) scale(0.92 1)" class="pv">p=0.019</text>
<path d="M427.50 155.75H489.50" stroke="#000" stroke-width="1.65"/>
<text transform="translate(458.75 153.25) scale(0.92 1)" class="pv">p=0.014</text>
<g fill="#000">
<circle cx="397.75" cy="165.25" r="1.75"/>
<circle cx="390.20" cy="204.80" r="1.75"/>
<circle cx="393.90" cy="206.20" r="1.75"/>
<circle cx="397.90" cy="208.50" r="1.75"/>
<circle cx="401.60" cy="207.00" r="1.75"/>
<circle cx="405.50" cy="205.40" r="1.75"/>
<circle cx="390.30" cy="211.40" r="1.75"/>
<circle cx="392.83" cy="213.40" r="1.75"/>
<circle cx="395.37" cy="214.60" r="1.75"/>
<circle cx="397.90" cy="215.00" r="1.75"/>
<circle cx="400.43" cy="214.60" r="1.75"/>
<circle cx="402.97" cy="213.40" r="1.75"/>
<circle cx="405.50" cy="211.40" r="1.75"/>
<circle cx="390.40" cy="218.40" r="1.75"/>
<circle cx="392.90" cy="219.62" r="1.75"/>
<circle cx="395.40" cy="220.36" r="1.75"/>
<circle cx="397.90" cy="220.60" r="1.75"/>
<circle cx="400.40" cy="220.36" r="1.75"/>
<circle cx="402.90" cy="219.62" r="1.75"/>
<circle cx="405.40" cy="218.40" r="1.75"/>
<circle cx="428.25" cy="167.00" r="1.75"/>
<circle cx="428.20" cy="191.10" r="1.75"/>
<circle cx="428.20" cy="199.60" r="1.75"/>
<circle cx="430.60" cy="205.70" r="1.75"/>
<circle cx="425.30" cy="209.50" r="1.75"/>
<circle cx="420.00" cy="212.50" r="1.75"/>
<circle cx="424.25" cy="213.62" r="1.75"/>
<circle cx="428.50" cy="214.00" r="1.75"/>
<circle cx="432.75" cy="213.62" r="1.75"/>
<circle cx="437.00" cy="212.50" r="1.75"/>
<circle cx="425.70" cy="218.40" r="1.75"/>
<circle cx="430.60" cy="217.10" r="1.75"/>
<circle cx="420.10" cy="221.50" r="1.75"/>
<circle cx="421.71" cy="221.50" r="1.75"/>
<circle cx="423.32" cy="221.50" r="1.75"/>
<circle cx="424.93" cy="221.50" r="1.75"/>
<circle cx="426.54" cy="221.50" r="1.75"/>
<circle cx="428.15" cy="221.50" r="1.75"/>
<circle cx="429.76" cy="221.50" r="1.75"/>
<circle cx="431.37" cy="221.50" r="1.75"/>
<circle cx="432.98" cy="221.50" r="1.75"/>
<circle cx="434.59" cy="221.50" r="1.75"/>
<circle cx="436.20" cy="221.50" r="1.75"/>
<circle cx="458.60" cy="213.80" r="1.75"/>
<circle cx="450.90" cy="217.80" r="1.75"/>
<circle cx="454.80" cy="216.80" r="1.75"/>
<circle cx="458.60" cy="217.30" r="1.75"/>
<circle cx="462.30" cy="216.80" r="1.75"/>
<circle cx="466.20" cy="217.80" r="1.75"/>
<circle cx="451.50" cy="220.60" r="1.75"/>
<circle cx="453.50" cy="220.60" r="1.75"/>
<circle cx="455.50" cy="220.60" r="1.75"/>
<circle cx="457.50" cy="220.60" r="1.75"/>
<circle cx="459.50" cy="220.60" r="1.75"/>
<circle cx="461.50" cy="220.60" r="1.75"/>
<circle cx="463.50" cy="220.60" r="1.75"/>
<circle cx="465.50" cy="220.60" r="1.75"/>
<circle cx="486.10" cy="214.70" r="1.75"/>
<circle cx="494.20" cy="215.30" r="1.75"/>
<circle cx="492.90" cy="217.30" r="1.75"/>
<circle cx="485.00" cy="218.50" r="1.75"/>
<circle cx="481.50" cy="220.80" r="1.75"/>
<circle cx="482.91" cy="220.80" r="1.75"/>
<circle cx="484.32" cy="220.80" r="1.75"/>
<circle cx="485.73" cy="220.80" r="1.75"/>
<circle cx="487.14" cy="220.80" r="1.75"/>
<circle cx="488.55" cy="220.80" r="1.75"/>
<circle cx="489.95" cy="220.80" r="1.75"/>
<circle cx="491.36" cy="220.80" r="1.75"/>
<circle cx="492.77" cy="220.80" r="1.75"/>
<circle cx="494.18" cy="220.80" r="1.75"/>
<circle cx="495.59" cy="220.80" r="1.75"/>
<circle cx="497.00" cy="220.80" r="1.75"/>
</g>
<path d="M388.00 214.00H407.80M397.90 208.50V223.90" stroke="#1a1a1a" stroke-width="1" fill="none"/>
<path d="M418.70 214.90H438.30M428.50 210.30V223.90M424.50 210.30H432.50" stroke="#1a1a1a" stroke-width="1" fill="none"/>
<path d="M552.50 134.50V221.50H684.30" fill="none" stroke="#262626" stroke-width="1"/>
<path d="M550.00 221.50H552.50" stroke="#262626" stroke-width="1"/>
<text x="549.50" y="223.90" class="tk">0</text>
<path d="M550.00 196.50H552.50" stroke="#262626" stroke-width="1"/>
<text x="549.50" y="198.90" class="tk">100</text>
<path d="M550.00 171.50H552.50" stroke="#262626" stroke-width="1"/>
<text x="549.50" y="173.90" class="tk">200</text>
<path d="M550.00 146.50H552.50" stroke="#262626" stroke-width="1"/>
<text x="549.50" y="148.90" class="tk">300</text>
<path d="M572.80 221.50V223.90" stroke="#262626" stroke-width="1"/>
<path d="M603.10 221.50V223.90" stroke="#262626" stroke-width="1"/>
<path d="M633.40 221.50V223.90" stroke="#262626" stroke-width="1"/>
<path d="M663.70 221.50V223.90" stroke="#262626" stroke-width="1"/>
<text x="572.80" y="231.00" class="cat">TAK</text>
<text x="603.10" y="231.00" class="cat">HD-TAK</text>
<text x="633.40" y="231.00" class="cat">GCA</text>
<text x="663.70" y="231.00" class="cat">HD-GCA</text>
<text transform="translate(534.16 178.00) rotate(-90) scale(0.93 1)" class="yl">pg/mL</text>
<text x="618.50" y="131.00" class="ti">G-CSF</text>
<path d="M571.50 143.75H634.00" stroke="#000" stroke-width="1.65"/>
<text transform="translate(602.00 141.25) scale(0.92 1)" class="pv">p&lt;0.01</text>
<path d="M602.75 155.00H665.00" stroke="#000" stroke-width="1.65"/>
<text transform="translate(633.25 152.50) scale(0.92 1)" class="pv">p=0.49</text>
<g fill="#000">
<circle cx="572.25" cy="159.50" r="1.75"/>
<circle cx="572.25" cy="170.75" r="1.75"/>
<circle cx="572.25" cy="185.25" r="1.75"/>
<circle cx="572.50" cy="196.10" r="1.75"/>
<circle cx="572.50" cy="201.70" r="1.75"/>
<circle cx="572.50" cy="208.20" r="1.75"/>
<circle cx="569.40" cy="210.90" r="1.75"/>
<circle cx="575.30" cy="211.90" r="1.75"/>
<circle cx="565.00" cy="213.20" r="1.75"/>
<circle cx="580.50" cy="214.00" r="1.75"/>
<circle cx="566.90" cy="215.90" r="1.75"/>
<circle cx="569.80" cy="215.90" r="1.75"/>
<circle cx="572.70" cy="215.90" r="1.75"/>
<circle cx="575.60" cy="215.90" r="1.75"/>
<circle cx="578.50" cy="215.90" r="1.75"/>
<circle cx="566.30" cy="217.70" r="1.75"/>
<circle cx="577.40" cy="218.10" r="1.75"/>
<circle cx="568.00" cy="221.50" r="1.75"/>
<circle cx="569.75" cy="221.50" r="1.75"/>
<circle cx="571.50" cy="221.50" r="1.75"/>
<circle cx="573.25" cy="221.50" r="1.75"/>
<circle cx="575.00" cy="221.50" r="1.75"/>
<circle cx="597.60" cy="207.20" r="1.75"/>
<circle cx="603.00" cy="210.30" r="1.75"/>
<circle cx="610.50" cy="210.00" r="1.75"/>
<circle cx="594.70" cy="212.20" r="1.75"/>
<circle cx="596.43" cy="213.19" r="1.75"/>
<circle cx="598.17" cy="213.93" r="1.75"/>
<circle cx="599.90" cy="214.42" r="1.75"/>
<circle cx="601.63" cy="214.67" r="1.75"/>
<circle cx="603.37" cy="214.67" r="1.75"/>
<circle cx="605.10" cy="214.42" r="1.75"/>
<circle cx="606.83" cy="213.93" r="1.75"/>
<circle cx="608.57" cy="213.19" r="1.75"/>
<circle cx="610.30" cy="212.20" r="1.75"/>
<circle cx="594.70" cy="216.50" r="1.75"/>
<circle cx="610.50" cy="217.10" r="1.75"/>
<circle cx="596.40" cy="221.50" r="1.75"/>
<circle cx="597.93" cy="221.50" r="1.75"/>
<circle cx="599.47" cy="221.50" r="1.75"/>
<circle cx="601.00" cy="221.50" r="1.75"/>
<circle cx="602.53" cy="221.50" r="1.75"/>
<circle cx="604.07" cy="221.50" r="1.75"/>
<circle cx="605.60" cy="221.50" r="1.75"/>
<circle cx="607.13" cy="221.50" r="1.75"/>
<circle cx="608.67" cy="221.50" r="1.75"/>
<circle cx="610.20" cy="221.50" r="1.75"/>
<circle cx="633.10" cy="191.10" r="1.75"/>
<circle cx="630.60" cy="202.50" r="1.75"/>
<circle cx="635.60" cy="207.50" r="1.75"/>
<circle cx="625.90" cy="217.10" r="1.75"/>
<circle cx="627.52" cy="218.56" r="1.75"/>
<circle cx="629.14" cy="219.66" r="1.75"/>
<circle cx="630.77" cy="220.39" r="1.75"/>
<circle cx="632.39" cy="220.75" r="1.75"/>
<circle cx="634.01" cy="220.75" r="1.75"/>
<circle cx="635.63" cy="220.39" r="1.75"/>
<circle cx="637.26" cy="219.66" r="1.75"/>
<circle cx="638.88" cy="218.56" r="1.75"/>
<circle cx="640.50" cy="217.10" r="1.75"/>
<circle cx="663.40" cy="194.60" r="1.75"/>
<circle cx="663.40" cy="205.40" r="1.75"/>
<circle cx="656.00" cy="212.80" r="1.75"/>
<circle cx="660.90" cy="214.70" r="1.75"/>
<circle cx="666.30" cy="215.90" r="1.75"/>
<circle cx="671.20" cy="214.00" r="1.75"/>
<circle cx="655.40" cy="218.40" r="1.75"/>
<circle cx="657.18" cy="219.35" r="1.75"/>
<circle cx="658.96" cy="220.06" r="1.75"/>
<circle cx="660.73" cy="220.53" r="1.75"/>
<circle cx="662.51" cy="220.77" r="1.75"/>
<circle cx="664.29" cy="220.77" r="1.75"/>
<circle cx="666.07" cy="220.53" r="1.75"/>
<circle cx="667.84" cy="220.06" r="1.75"/>
<circle cx="669.62" cy="219.35" r="1.75"/>
<circle cx="671.40" cy="218.40" r="1.75"/>
</g>
<path d="M562.60 214.40H582.40M572.50 205.40V223.90M567.50 205.40H577.50" stroke="#1a1a1a" stroke-width="1" fill="none"/>
<path d="M593.30 214.00H612.30M602.80 214.00V223.90" stroke="#1a1a1a" stroke-width="1" fill="none"/>
<path d="M626.70 219.40H639.70M633.20 217.00V223.90" stroke="#1a1a1a" stroke-width="1" fill="none"/>
<path d="M653.80 216.90H673.20M663.50 210.30V223.90M658.40 210.30H668.60" stroke="#1a1a1a" stroke-width="1" fill="none"/>
<path d="M27.50 259.20V346.50H159.30" fill="none" stroke="#262626" stroke-width="1"/>
<path d="M25.00 346.50H27.50" stroke="#262626" stroke-width="1"/>
<text x="24.50" y="348.90" class="tk">0</text>
<path d="M25.00 323.40H27.50" stroke="#262626" stroke-width="1"/>
<text x="24.50" y="325.80" class="tk">100</text>
<path d="M25.00 300.30H27.50" stroke="#262626" stroke-width="1"/>
<text x="24.50" y="302.70" class="tk">200</text>
<path d="M25.00 277.20H27.50" stroke="#262626" stroke-width="1"/>
<text x="24.50" y="279.60" class="tk">300</text>
<path d="M47.80 346.50V348.90" stroke="#262626" stroke-width="1"/>
<path d="M78.10 346.50V348.90" stroke="#262626" stroke-width="1"/>
<path d="M108.40 346.50V348.90" stroke="#262626" stroke-width="1"/>
<path d="M138.70 346.50V348.90" stroke="#262626" stroke-width="1"/>
<text x="47.80" y="355.70" class="cat">TAK</text>
<text x="78.10" y="355.70" class="cat">HD-TAK</text>
<text x="108.40" y="355.70" class="cat">GCA</text>
<text x="138.70" y="355.70" class="cat">HD-GCA</text>
<text transform="translate(9.16 302.85) rotate(-90) scale(0.93 1)" class="yl">pg/mL</text>
<text x="93.40" y="256.00" class="ti">FGF-2</text>
<path d="M45.75 266.00H108.00" stroke="#000" stroke-width="1.65"/>
<text transform="translate(75.75 263.50) scale(0.92 1)" class="pv">p&lt;0.01</text>
<path d="M76.75 277.40H139.00" stroke="#000" stroke-width="1.65"/>
<text transform="translate(108.40 274.90) scale(0.92 1)" class="pv">p=0.080</text>
<g fill="#000">
<circle cx="47.90" cy="305.50" r="1.75"/>
<circle cx="42.40" cy="313.10" r="1.75"/>
<circle cx="47.90" cy="314.00" r="1.75"/>
<circle cx="53.40" cy="313.30" r="1.75"/>
<circle cx="39.90" cy="319.60" r="1.75"/>
<circle cx="45.10" cy="320.90" r="1.75"/>
<circle cx="50.20" cy="320.90" r="1.75"/>
<circle cx="55.30" cy="320.50" r="1.75"/>
<circle cx="39.60" cy="329.80" r="1.75"/>
<circle cx="45.10" cy="329.30" r="1.75"/>
<circle cx="50.20" cy="329.80" r="1.75"/>
<circle cx="55.30" cy="328.10" r="1.75"/>
<circle cx="40.00" cy="331.50" r="1.75"/>
<circle cx="43.80" cy="332.00" r="1.75"/>
<circle cx="47.70" cy="332.30" r="1.75"/>
<circle cx="51.50" cy="332.00" r="1.75"/>
<circle cx="55.70" cy="330.60" r="1.75"/>
<circle cx="43.40" cy="334.40" r="1.75"/>
<circle cx="46.00" cy="334.80" r="1.75"/>
<circle cx="49.30" cy="334.80" r="1.75"/>
<circle cx="52.30" cy="334.00" r="1.75"/>
<circle cx="42.60" cy="337.80" r="1.75"/>
<circle cx="53.10" cy="336.50" r="1.75"/>
<circle cx="46.00" cy="340.70" r="1.75"/>
<circle cx="49.30" cy="339.50" r="1.75"/>
<circle cx="78.25" cy="282.75" r="1.75"/>
<circle cx="75.00" cy="291.25" r="1.75"/>
<circle cx="80.75" cy="296.25" r="1.75"/>
<circle cx="78.10" cy="320.30" r="1.75"/>
<circle cx="83.20" cy="323.40" r="1.75"/>
<circle cx="72.60" cy="326.50" r="1.75"/>
<circle cx="78.10" cy="327.40" r="1.75"/>
<circle cx="80.70" cy="327.90" r="1.75"/>
<circle cx="71.60" cy="330.80" r="1.75"/>
<circle cx="74.90" cy="330.30" r="1.75"/>
<circle cx="78.00" cy="330.30" r="1.75"/>
<circle cx="84.00" cy="330.30" r="1.75"/>
<circle cx="81.10" cy="331.70" r="1.75"/>
<circle cx="75.40" cy="335.50" r="1.75"/>
<circle cx="77.30" cy="334.10" r="1.75"/>
<circle cx="79.70" cy="333.30" r="1.75"/>
<circle cx="75.40" cy="340.60" r="1.75"/>
<circle cx="80.70" cy="340.60" r="1.75"/>
<circle cx="84.00" cy="340.30" r="1.75"/>
<circle cx="84.50" cy="342.00" r="1.75"/>
<circle cx="71.60" cy="343.20" r="1.75"/>
<circle cx="74.50" cy="345.80" r="1.75"/>
<circle cx="77.03" cy="345.80" r="1.75"/>
<circle cx="79.57" cy="345.80" r="1.75"/>
<circle cx="82.10" cy="345.80" r="1.75"/>
<circle cx="103.30" cy="330.30" r="1.75"/>
<circle cx="111.10" cy="327.40" r="1.75"/>
<circle cx="100.20" cy="335.80" r="1.75"/>
<circle cx="103.00" cy="337.00" r="1.75"/>
<circle cx="105.90" cy="335.10" r="1.75"/>
<circle cx="108.30" cy="337.40" r="1.75"/>
<circle cx="111.10" cy="335.80" r="1.75"/>
<circle cx="113.50" cy="336.50" r="1.75"/>
<circle cx="116.40" cy="336.00" r="1.75"/>
<circle cx="102.00" cy="338.00" r="1.75"/>
<circle cx="106.50" cy="338.20" r="1.75"/>
<circle cx="110.50" cy="338.00" r="1.75"/>
<circle cx="114.50" cy="337.80" r="1.75"/>
<circle cx="100.60" cy="342.70" r="1.75"/>
<circle cx="115.90" cy="341.00" r="1.75"/>
<circle cx="105.90" cy="346.00" r="1.75"/>
<circle cx="110.70" cy="346.00" r="1.75"/>
<circle cx="136.20" cy="324.10" r="1.75"/>
<circle cx="144.10" cy="326.30" r="1.75"/>
<circle cx="141.50" cy="329.30" r="1.75"/>
<circle cx="136.20" cy="334.60" r="1.75"/>
<circle cx="144.10" cy="336.50" r="1.75"/>
<circle cx="131.20" cy="338.40" r="1.75"/>
<circle cx="130.70" cy="340.30" r="1.75"/>
<circle cx="132.60" cy="341.70" r="1.75"/>
<circle cx="135.00" cy="342.70" r="1.75"/>
<circle cx="138.80" cy="340.60" r="1.75"/>
<circle cx="142.70" cy="342.70" r="1.75"/>
<circle cx="145.10" cy="341.30" r="1.75"/>
<circle cx="147.00" cy="340.80" r="1.75"/>
<circle cx="135.50" cy="346.00" r="1.75"/>
<circle cx="137.12" cy="346.00" r="1.75"/>
<circle cx="138.75" cy="346.00" r="1.75"/>
<circle cx="140.38" cy="346.00" r="1.75"/>
<circle cx="142.00" cy="346.00" r="1.75"/>
</g>
<path d="M37.50 330.60H57.90M47.70 320.90V348.90" stroke="#1a1a1a" stroke-width="1" fill="none"/>
<path d="M68.30 331.70H87.90M78.10 326.00V343.60" stroke="#1a1a1a" stroke-width="1" fill="none"/>
<path d="M99.80 337.00H117.80" stroke="#1a1a1a" stroke-width="1" fill="none"/>
<path d="M129.70 339.80H147.90M138.80 333.10V348.90M133.60 333.10H144.00" stroke="#1a1a1a" stroke-width="1" fill="none"/>
<path d="M203.00 259.20V346.50H334.80" fill="none" stroke="#262626" stroke-width="1"/>
<path d="M200.50 346.50H203.00" stroke="#262626" stroke-width="1"/>
<text x="200.00" y="348.90" class="tk">0</text>
<path d="M200.50 314.50H203.00" stroke="#262626" stroke-width="1"/>
<text x="200.00" y="316.90" class="tk">200</text>
<path d="M200.50 282.50H203.00" stroke="#262626" stroke-width="1"/>
<text x="200.00" y="284.90" class="tk">400</text>
<path d="M223.30 346.50V348.90" stroke="#262626" stroke-width="1"/>
<path d="M253.60 346.50V348.90" stroke="#262626" stroke-width="1"/>
<path d="M283.90 346.50V348.90" stroke="#262626" stroke-width="1"/>
<path d="M314.20 346.50V348.90" stroke="#262626" stroke-width="1"/>
<text x="223.30" y="355.70" class="cat">TAK</text>
<text x="253.60" y="355.70" class="cat">HD-TAK</text>
<text x="283.90" y="355.70" class="cat">GCA</text>
<text x="314.20" y="355.70" class="cat">HD-GCA</text>
<text transform="translate(184.66 302.85) rotate(-90) scale(0.93 1)" class="yl">pg/mL</text>
<text x="269.00" y="256.00" class="ti">Eotaxin</text>
<path d="M221.75 267.30H283.80" stroke="#000" stroke-width="1.65"/>
<text transform="translate(252.25 264.80) scale(0.92 1)" class="pv">p=0.044</text>
<path d="M252.75 278.60H315.25" stroke="#000" stroke-width="1.65"/>
<text transform="translate(283.40 276.10) scale(0.92 1)" class="pv">p=0.034</text>
<g fill="#000">
<circle cx="217.60" cy="306.20" r="1.75"/>
<circle cx="223.10" cy="308.00" r="1.75"/>
<circle cx="228.60" cy="304.40" r="1.75"/>
<circle cx="223.10" cy="316.20" r="1.75"/>
<circle cx="217.60" cy="324.50" r="1.75"/>
<circle cx="228.60" cy="322.30" r="1.75"/>
<circle cx="214.90" cy="330.40" r="1.75"/>
<circle cx="218.34" cy="330.40" r="1.75"/>
<circle cx="221.78" cy="330.40" r="1.75"/>
<circle cx="225.22" cy="330.40" r="1.75"/>
<circle cx="228.66" cy="330.40" r="1.75"/>
<circle cx="232.10" cy="330.40" r="1.75"/>
<circle cx="216.90" cy="333.90" r="1.75"/>
<circle cx="221.03" cy="333.90" r="1.75"/>
<circle cx="225.17" cy="333.90" r="1.75"/>
<circle cx="229.30" cy="333.90" r="1.75"/>
<circle cx="216.90" cy="336.50" r="1.75"/>
<circle cx="221.03" cy="336.50" r="1.75"/>
<circle cx="225.17" cy="336.50" r="1.75"/>
<circle cx="229.30" cy="336.50" r="1.75"/>
<circle cx="217.60" cy="339.20" r="1.75"/>
<circle cx="228.60" cy="340.20" r="1.75"/>
<circle cx="223.10" cy="343.70" r="1.75"/>
<circle cx="253.40" cy="307.60" r="1.75"/>
<circle cx="253.40" cy="316.50" r="1.75"/>
<circle cx="250.60" cy="320.40" r="1.75"/>
<circle cx="256.10" cy="321.30" r="1.75"/>
<circle cx="246.00" cy="323.00" r="1.75"/>
<circle cx="249.00" cy="323.00" r="1.75"/>
<circle cx="252.00" cy="323.00" r="1.75"/>
<circle cx="255.00" cy="323.00" r="1.75"/>
<circle cx="258.00" cy="323.00" r="1.75"/>
<circle cx="261.00" cy="323.00" r="1.75"/>
<circle cx="244.50" cy="325.50" r="1.75"/>
<circle cx="247.58" cy="325.50" r="1.75"/>
<circle cx="250.67" cy="325.50" r="1.75"/>
<circle cx="253.75" cy="325.50" r="1.75"/>
<circle cx="256.83" cy="325.50" r="1.75"/>
<circle cx="259.92" cy="325.50" r="1.75"/>
<circle cx="263.00" cy="325.50" r="1.75"/>
<circle cx="248.00" cy="327.50" r="1.75"/>
<circle cx="251.67" cy="327.50" r="1.75"/>
<circle cx="255.33" cy="327.50" r="1.75"/>
<circle cx="259.00" cy="327.50" r="1.75"/>
<circle cx="245.80" cy="330.30" r="1.75"/>
<circle cx="261.00" cy="329.60" r="1.75"/>
<circle cx="249.30" cy="333.00" r="1.75"/>
<circle cx="253.40" cy="334.10" r="1.75"/>
<circle cx="257.20" cy="332.70" r="1.75"/>
<circle cx="253.40" cy="342.90" r="1.75"/>
<circle cx="284.00" cy="281.50" r="1.75"/>
<circle cx="283.80" cy="296.60" r="1.75"/>
<circle cx="283.80" cy="311.20" r="1.75"/>
<circle cx="276.00" cy="316.90" r="1.75"/>
<circle cx="280.00" cy="318.50" r="1.75"/>
<circle cx="287.60" cy="318.50" r="1.75"/>
<circle cx="291.50" cy="316.50" r="1.75"/>
<circle cx="276.00" cy="322.30" r="1.75"/>
<circle cx="283.80" cy="322.30" r="1.75"/>
<circle cx="291.50" cy="321.80" r="1.75"/>
<circle cx="280.00" cy="327.30" r="1.75"/>
<circle cx="287.60" cy="326.80" r="1.75"/>
<circle cx="278.30" cy="328.50" r="1.75"/>
<circle cx="282.90" cy="329.80" r="1.75"/>
<circle cx="288.70" cy="329.80" r="1.75"/>
<circle cx="284.60" cy="332.30" r="1.75"/>
<circle cx="286.60" cy="337.80" r="1.75"/>
<circle cx="281.30" cy="340.60" r="1.75"/>
<circle cx="314.40" cy="292.00" r="1.75"/>
<circle cx="314.40" cy="302.90" r="1.75"/>
<circle cx="308.60" cy="307.40" r="1.75"/>
<circle cx="319.70" cy="306.60" r="1.75"/>
<circle cx="306.50" cy="314.50" r="1.75"/>
<circle cx="321.90" cy="314.50" r="1.75"/>
<circle cx="312.00" cy="319.50" r="1.75"/>
<circle cx="317.00" cy="319.80" r="1.75"/>
<circle cx="306.50" cy="321.80" r="1.75"/>
<circle cx="321.90" cy="321.20" r="1.75"/>
<circle cx="308.50" cy="324.50" r="1.75"/>
<circle cx="311.25" cy="324.50" r="1.75"/>
<circle cx="314.00" cy="324.50" r="1.75"/>
<circle cx="316.75" cy="324.50" r="1.75"/>
<circle cx="319.50" cy="324.50" r="1.75"/>
<circle cx="306.50" cy="328.10" r="1.75"/>
<circle cx="321.90" cy="326.80" r="1.75"/>
<circle cx="311.40" cy="330.60" r="1.75"/>
<circle cx="316.90" cy="330.60" r="1.75"/>
</g>
<path d="M213.70 331.40H232.90M223.30 325.40V348.90M220.30 325.40H226.30" stroke="#1a1a1a" stroke-width="1" fill="none"/>
<path d="M243.80 325.40H263.80" stroke="#1a1a1a" stroke-width="1" fill="none"/>
<path d="M275.50 322.70H292.10M283.80 316.90V329.00M279.30 316.90H288.30M279.30 329.00H288.30" stroke="#1a1a1a" stroke-width="1" fill="none"/>
<path d="M304.50 318.50H323.90M314.20 308.20V328.50M310.40 308.20H318.00M310.40 328.50H318.00" stroke="#1a1a1a" stroke-width="1" fill="none"/>
<path d="M377.50 259.20V346.50H509.30" fill="none" stroke="#262626" stroke-width="1"/>
<path d="M375.00 346.50H377.50" stroke="#262626" stroke-width="1"/>
<text x="374.50" y="348.90" class="tk">0</text>
<path d="M375.00 323.90H377.50" stroke="#262626" stroke-width="1"/>
<text x="374.50" y="326.30" class="tk">20</text>
<path d="M375.00 301.30H377.50" stroke="#262626" stroke-width="1"/>
<text x="374.50" y="303.70" class="tk">40</text>
<path d="M375.00 278.70H377.50" stroke="#262626" stroke-width="1"/>
<text x="374.50" y="281.10" class="tk">60</text>
<path d="M397.80 346.50V348.90" stroke="#262626" stroke-width="1"/>
<path d="M428.10 346.50V348.90" stroke="#262626" stroke-width="1"/>
<path d="M458.40 346.50V348.90" stroke="#262626" stroke-width="1"/>
<path d="M488.70 346.50V348.90" stroke="#262626" stroke-width="1"/>
<text x="397.80" y="355.70" class="cat">TAK</text>
<text x="428.10" y="355.70" class="cat">HD-TAK</text>
<text x="458.40" y="355.70" class="cat">GCA</text>
<text x="488.70" y="355.70" class="cat">HD-GCA</text>
<text transform="translate(362.94 302.85) rotate(-90) scale(0.93 1)" class="yl">pg/mL</text>
<text x="444.40" y="256.00" class="ti">TNF-<tspan class="gk" style="font-size:8.6px">α</tspan></text>
<path d="M397.00 265.25H459.50" stroke="#000" stroke-width="1.65"/>
<text transform="translate(427.00 262.75) scale(0.92 1)" class="pv">p=0.80</text>
<path d="M428.25 276.50H490.25" stroke="#000" stroke-width="1.65"/>
<text transform="translate(458.25 274.00) scale(0.92 1)" class="pv">p=0.39</text>
<g fill="#000">
<circle cx="395.10" cy="303.80" r="1.75"/>
<circle cx="400.40" cy="307.90" r="1.75"/>
<circle cx="400.40" cy="314.40" r="1.75"/>
<circle cx="395.10" cy="317.70" r="1.75"/>
<circle cx="389.90" cy="323.50" r="1.75"/>
<circle cx="393.85" cy="325.45" r="1.75"/>
<circle cx="397.80" cy="326.10" r="1.75"/>
<circle cx="401.75" cy="325.45" r="1.75"/>
<circle cx="405.70" cy="323.50" r="1.75"/>
<circle cx="389.80" cy="329.50" r="1.75"/>
<circle cx="405.50" cy="329.80" r="1.75"/>
<circle cx="390.30" cy="332.30" r="1.75"/>
<circle cx="394.05" cy="333.28" r="1.75"/>
<circle cx="397.80" cy="333.60" r="1.75"/>
<circle cx="401.55" cy="333.28" r="1.75"/>
<circle cx="405.30" cy="332.30" r="1.75"/>
<circle cx="390.10" cy="334.70" r="1.75"/>
<circle cx="393.95" cy="336.20" r="1.75"/>
<circle cx="397.80" cy="336.70" r="1.75"/>
<circle cx="401.65" cy="336.20" r="1.75"/>
<circle cx="405.50" cy="334.70" r="1.75"/>
<circle cx="395.10" cy="338.90" r="1.75"/>
<circle cx="399.00" cy="338.20" r="1.75"/>
<circle cx="397.80" cy="345.00" r="1.75"/>
<circle cx="422.70" cy="322.30" r="1.75"/>
<circle cx="433.00" cy="323.80" r="1.75"/>
<circle cx="425.70" cy="326.80" r="1.75"/>
<circle cx="431.20" cy="326.10" r="1.75"/>
<circle cx="422.70" cy="330.20" r="1.75"/>
<circle cx="428.50" cy="330.20" r="1.75"/>
<circle cx="433.30" cy="328.60" r="1.75"/>
<circle cx="419.50" cy="334.10" r="1.75"/>
<circle cx="423.75" cy="336.05" r="1.75"/>
<circle cx="428.00" cy="336.70" r="1.75"/>
<circle cx="432.25" cy="336.05" r="1.75"/>
<circle cx="436.50" cy="334.10" r="1.75"/>
<circle cx="420.10" cy="340.20" r="1.75"/>
<circle cx="430.70" cy="341.20" r="1.75"/>
<circle cx="436.00" cy="338.20" r="1.75"/>
<circle cx="425.70" cy="343.50" r="1.75"/>
<circle cx="458.25" cy="282.00" r="1.75"/>
<circle cx="458.60" cy="299.20" r="1.75"/>
<circle cx="458.60" cy="305.30" r="1.75"/>
<circle cx="455.90" cy="312.00" r="1.75"/>
<circle cx="461.50" cy="310.60" r="1.75"/>
<circle cx="455.90" cy="321.50" r="1.75"/>
<circle cx="461.50" cy="324.50" r="1.75"/>
<circle cx="450.90" cy="326.50" r="1.75"/>
<circle cx="454.80" cy="327.60" r="1.75"/>
<circle cx="462.70" cy="326.80" r="1.75"/>
<circle cx="466.50" cy="326.50" r="1.75"/>
<circle cx="451.80" cy="331.40" r="1.75"/>
<circle cx="455.00" cy="332.50" r="1.75"/>
<circle cx="458.60" cy="330.20" r="1.75"/>
<circle cx="462.20" cy="332.50" r="1.75"/>
<circle cx="465.70" cy="331.40" r="1.75"/>
<circle cx="453.60" cy="335.20" r="1.75"/>
<circle cx="456.60" cy="336.20" r="1.75"/>
<circle cx="460.00" cy="336.60" r="1.75"/>
<circle cx="462.70" cy="335.20" r="1.75"/>
<circle cx="458.60" cy="343.80" r="1.75"/>
<circle cx="489.20" cy="314.40" r="1.75"/>
<circle cx="483.60" cy="322.30" r="1.75"/>
<circle cx="489.20" cy="321.50" r="1.75"/>
<circle cx="494.50" cy="322.30" r="1.75"/>
<circle cx="489.20" cy="327.30" r="1.75"/>
<circle cx="480.10" cy="330.60" r="1.75"/>
<circle cx="496.80" cy="330.60" r="1.75"/>
<circle cx="482.40" cy="332.30" r="1.75"/>
<circle cx="485.65" cy="334.10" r="1.75"/>
<circle cx="488.90" cy="334.70" r="1.75"/>
<circle cx="492.15" cy="334.10" r="1.75"/>
<circle cx="495.40" cy="332.30" r="1.75"/>
<circle cx="483.90" cy="337.40" r="1.75"/>
<circle cx="487.70" cy="338.90" r="1.75"/>
<circle cx="491.50" cy="337.70" r="1.75"/>
<circle cx="494.00" cy="336.50" r="1.75"/>
<circle cx="487.20" cy="340.20" r="1.75"/>
</g>
<path d="M388.30 331.40H407.30M397.80 325.30V348.90M393.80 325.30H401.80" stroke="#1a1a1a" stroke-width="1" fill="none"/>
<path d="M418.10 335.20H438.50M428.30 330.00V340.00" stroke="#1a1a1a" stroke-width="1" fill="none"/>
<path d="M448.60 328.00H468.60M458.60 314.40V348.90M453.30 314.40H463.90" stroke="#1a1a1a" stroke-width="1" fill="none"/>
<path d="M479.40 331.40H499.00M489.20 324.10V348.90M483.90 324.10H494.50" stroke="#1a1a1a" stroke-width="1" fill="none"/>
<path d="M553.00 259.20V346.50H684.80" fill="none" stroke="#262626" stroke-width="1"/>
<path d="M550.50 346.50H553.00" stroke="#262626" stroke-width="1"/>
<text x="550.00" y="348.90" class="tk">0</text>
<path d="M550.50 313.90H553.00" stroke="#262626" stroke-width="1"/>
<text x="550.00" y="316.30" class="tk">1000</text>
<path d="M550.50 281.30H553.00" stroke="#262626" stroke-width="1"/>
<text x="550.00" y="283.70" class="tk">2000</text>
<path d="M573.30 346.50V348.90" stroke="#262626" stroke-width="1"/>
<path d="M603.60 346.50V348.90" stroke="#262626" stroke-width="1"/>
<path d="M633.90 346.50V348.90" stroke="#262626" stroke-width="1"/>
<path d="M664.20 346.50V348.90" stroke="#262626" stroke-width="1"/>
<text x="573.30" y="355.70" class="cat">TAK</text>
<text x="603.60" y="355.70" class="cat">HD-TAK</text>
<text x="633.90" y="355.70" class="cat">GCA</text>
<text x="664.20" y="355.70" class="cat">HD-GCA</text>
<text transform="translate(530.88 302.85) rotate(-90) scale(0.93 1)" class="yl">pg/mL</text>
<text x="619.00" y="256.00" class="ti">IP-10</text>
<path d="M571.00 266.50H633.25" stroke="#000" stroke-width="1.65"/>
<text transform="translate(602.75 264.00) scale(0.92 1)" class="pv">p=0.042</text>
<path d="M602.00 277.75H664.25" stroke="#000" stroke-width="1.65"/>
<text transform="translate(633.50 275.25) scale(0.92 1)" class="pv">p=0.042</text>
<g fill="#000">
<circle cx="573.25" cy="301.25" r="1.75"/>
<circle cx="573.10" cy="324.80" r="1.75"/>
<circle cx="567.90" cy="328.50" r="1.75"/>
<circle cx="578.30" cy="328.80" r="1.75"/>
<circle cx="573.10" cy="331.60" r="1.75"/>
<circle cx="565.40" cy="334.50" r="1.75"/>
<circle cx="580.50" cy="334.10" r="1.75"/>
<circle cx="563.80" cy="336.80" r="1.75"/>
<circle cx="566.12" cy="337.76" r="1.75"/>
<circle cx="568.45" cy="338.45" r="1.75"/>
<circle cx="570.77" cy="338.86" r="1.75"/>
<circle cx="573.10" cy="339.00" r="1.75"/>
<circle cx="575.43" cy="338.86" r="1.75"/>
<circle cx="577.75" cy="338.45" r="1.75"/>
<circle cx="580.08" cy="337.76" r="1.75"/>
<circle cx="582.40" cy="336.80" r="1.75"/>
<circle cx="565.80" cy="338.80" r="1.75"/>
<circle cx="568.23" cy="340.30" r="1.75"/>
<circle cx="570.67" cy="341.20" r="1.75"/>
<circle cx="573.10" cy="341.50" r="1.75"/>
<circle cx="575.53" cy="341.20" r="1.75"/>
<circle cx="577.97" cy="340.30" r="1.75"/>
<circle cx="580.40" cy="338.80" r="1.75"/>
<circle cx="569.10" cy="341.30" r="1.75"/>
<circle cx="571.10" cy="343.18" r="1.75"/>
<circle cx="573.10" cy="343.80" r="1.75"/>
<circle cx="575.10" cy="343.18" r="1.75"/>
<circle cx="577.10" cy="341.30" r="1.75"/>
<circle cx="608.70" cy="330.40" r="1.75"/>
<circle cx="598.50" cy="333.70" r="1.75"/>
<circle cx="603.40" cy="333.70" r="1.75"/>
<circle cx="606.50" cy="335.30" r="1.75"/>
<circle cx="594.70" cy="337.40" r="1.75"/>
<circle cx="596.88" cy="338.67" r="1.75"/>
<circle cx="599.05" cy="339.57" r="1.75"/>
<circle cx="601.23" cy="340.12" r="1.75"/>
<circle cx="603.40" cy="340.30" r="1.75"/>
<circle cx="605.57" cy="340.12" r="1.75"/>
<circle cx="607.75" cy="339.57" r="1.75"/>
<circle cx="609.92" cy="338.67" r="1.75"/>
<circle cx="612.10" cy="337.40" r="1.75"/>
<circle cx="595.90" cy="338.20" r="1.75"/>
<circle cx="598.40" cy="339.76" r="1.75"/>
<circle cx="600.90" cy="340.69" r="1.75"/>
<circle cx="603.40" cy="341.00" r="1.75"/>
<circle cx="605.90" cy="340.69" r="1.75"/>
<circle cx="608.40" cy="339.76" r="1.75"/>
<circle cx="610.90" cy="338.20" r="1.75"/>
<circle cx="631.00" cy="281.50" r="1.75"/>
<circle cx="636.50" cy="285.25" r="1.75"/>
<circle cx="625.90" cy="326.10" r="1.75"/>
<circle cx="641.50" cy="326.10" r="1.75"/>
<circle cx="631.90" cy="329.60" r="1.75"/>
<circle cx="636.30" cy="328.90" r="1.75"/>
<circle cx="625.90" cy="332.50" r="1.75"/>
<circle cx="629.80" cy="332.50" r="1.75"/>
<circle cx="633.70" cy="332.50" r="1.75"/>
<circle cx="637.60" cy="332.50" r="1.75"/>
<circle cx="641.50" cy="332.50" r="1.75"/>
<circle cx="626.40" cy="336.90" r="1.75"/>
<circle cx="630.00" cy="337.80" r="1.75"/>
<circle cx="634.20" cy="335.80" r="1.75"/>
<circle cx="638.00" cy="338.00" r="1.75"/>
<circle cx="641.50" cy="337.80" r="1.75"/>
<circle cx="633.50" cy="341.30" r="1.75"/>
<circle cx="664.20" cy="314.70" r="1.75"/>
<circle cx="656.90" cy="333.00" r="1.75"/>
<circle cx="660.50" cy="332.00" r="1.75"/>
<circle cx="664.50" cy="331.40" r="1.75"/>
<circle cx="668.50" cy="332.20" r="1.75"/>
<circle cx="672.00" cy="333.70" r="1.75"/>
<circle cx="657.00" cy="335.80" r="1.75"/>
<circle cx="660.50" cy="335.80" r="1.75"/>
<circle cx="664.00" cy="335.80" r="1.75"/>
<circle cx="667.50" cy="335.80" r="1.75"/>
<circle cx="671.00" cy="335.80" r="1.75"/>
<circle cx="659.00" cy="337.60" r="1.75"/>
<circle cx="662.33" cy="337.60" r="1.75"/>
<circle cx="665.67" cy="337.60" r="1.75"/>
<circle cx="669.00" cy="337.60" r="1.75"/>
<circle cx="656.20" cy="340.20" r="1.75"/>
<circle cx="672.00" cy="338.50" r="1.75"/>
<circle cx="666.50" cy="341.50" r="1.75"/>
<circle cx="661.70" cy="343.70" r="1.75"/>
</g>
<path d="M563.20 337.40H583.00M573.10 335.30V348.90M569.10 335.30H577.10" stroke="#1a1a1a" stroke-width="1" fill="none"/>
<path d="M594.40 336.90H612.40" stroke="#1a1a1a" stroke-width="1" fill="none"/>
<path d="M624.00 333.00H643.00M633.50 326.10V340.00M628.30 326.10H638.70" stroke="#1a1a1a" stroke-width="1" fill="none"/>
<path d="M653.80 335.10H673.80M663.80 329.60V340.50M658.90 329.60H668.70M660.80 340.50H666.80" stroke="#1a1a1a" stroke-width="1" fill="none"/>
</svg></body></html>
